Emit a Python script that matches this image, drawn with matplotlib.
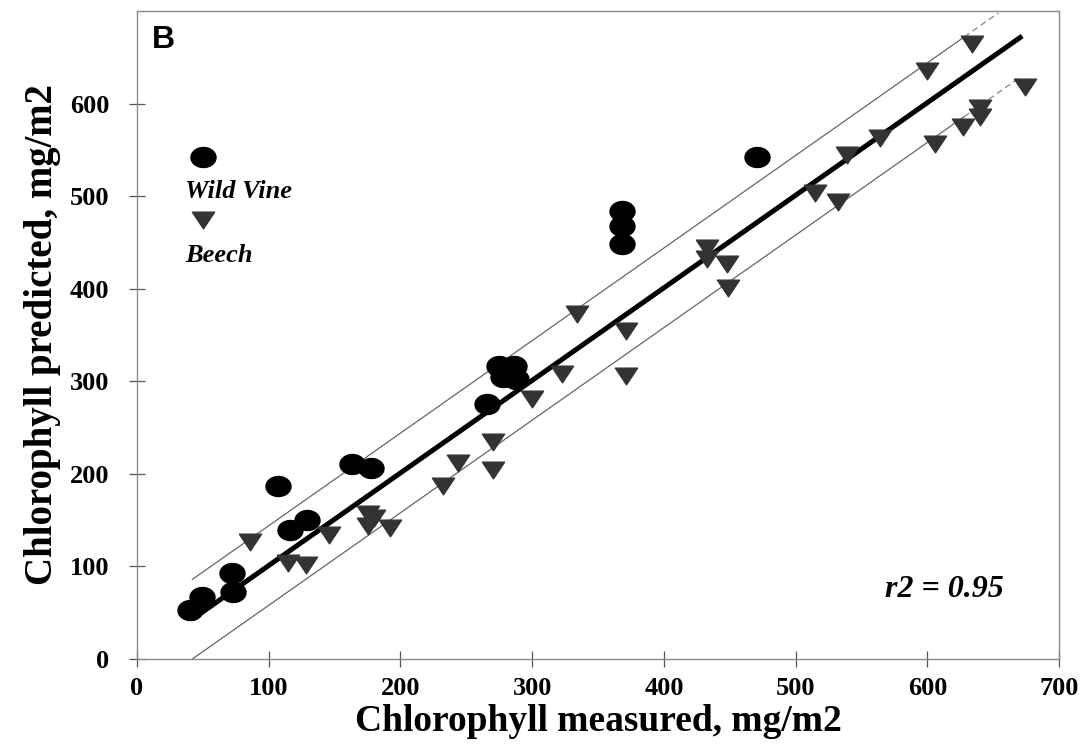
import numpy as np
import matplotlib
matplotlib.use("Agg")
from matplotlib import pyplot as plt
from matplotlib.path import Path

# Wild Vine samples (measured, predicted)
vine_measured = [40, 49, 72, 73, 107, 116, 129, 163, 178, 266, 275, 286, 278, 288, 368, 368, 368, 471]
vine_predicted = [53, 67, 93, 72, 187, 139, 150, 211, 206, 276, 316, 316, 305, 303, 484, 468, 448, 542]

# Beech samples (measured, predicted)
beech_measured = [86, 115, 128, 146, 175, 180, 175, 192, 232, 244, 270, 270, 300, 323, 334, 371, 371,
                  433, 433, 448, 449, 515, 532, 539, 564, 600, 634, 606, 627, 640, 640, 674]
beech_predicted = [126, 104, 102, 134, 157, 152, 144, 142, 187, 212, 234, 204, 281, 308, 373, 354, 306,
                   444, 432, 427, 401, 503, 494, 545, 563, 635, 664, 556, 575, 595, 586, 618]

# regression line and its +/- band
fit_slope = 1.0
fit_intercept = 1.0
band = 43.0
fit_range = [42, 672]
upper_range = [42, 628, 654]
lower_range = [42, 628, 670]

serif = "Liberation Serif"

# slightly flattened markers
t = np.linspace(0, 2 * np.pi, 60)
ellipse = Path(np.column_stack([np.cos(t), 0.8 * np.sin(t)]), closed=True)
tri_down = Path([(-1, 0.75), (1, 0.75), (0, -0.75), (-1, 0.75)], closed=True)

fig = plt.figure(figsize=(10.84, 7.51), dpi=100)
ax = fig.add_axes([0.1264, 0.1225, 0.8506, 0.8628])

# lines
fx = np.array(fit_range, dtype=float)
ax.plot(fx, fit_slope * fx + fit_intercept, color="black", lw=3.6, solid_capstyle="butt", zorder=3)
ux = np.array(upper_range, dtype=float)
uy = fit_slope * ux + fit_intercept + band
ax.plot(ux[:2], uy[:2], color="#666666", lw=0.9, zorder=2)
ax.plot(ux[1:], uy[1:], color="#888888", lw=0.9, ls=(0, (5, 3)), zorder=2)
lx = np.array(lower_range, dtype=float)
ly = fit_slope * lx + fit_intercept - band
ax.plot(lx[:2], ly[:2], color="#666666", lw=0.9, zorder=2)
ax.plot(lx[1:], ly[1:], color="#888888", lw=0.9, ls=(0, (5, 3)), zorder=2)

# points
ax.plot(vine_measured, vine_predicted, ls="none", marker=ellipse, ms=18,
        color="black", mec="black", zorder=4)
ax.plot(beech_measured, beech_predicted, ls="none", marker=tri_down, ms=16,
        color="#333333", mec="#333333", zorder=4)

# in-plot key
ax.plot([0.0716], [0.775], transform=ax.transAxes, ls="none", marker=ellipse, ms=18,
        color="black", clip_on=False)
ax.text(0.052, 0.721, "Wild Vine", transform=ax.transAxes, family=serif, weight="bold",
        style="italic", fontsize=19, va="center", ha="left")
ax.plot([0.0716], [0.677], transform=ax.transAxes, ls="none", marker=tri_down, ms=16,
        color="#333333", clip_on=False)
ax.text(0.052, 0.623, "Beech", transform=ax.transAxes, family=serif, weight="bold",
        style="italic", fontsize=19, va="center", ha="left")

ax.text(0.016, 0.955, "B", transform=ax.transAxes, family="Liberation Sans", weight="bold",
        fontsize=23, va="center", ha="left")
ax.text(613, 75, "r2 = 0.95", family=serif, weight="bold", style="italic",
        fontsize=23, va="center", ha="center")

ax.set_xlim(0, 700)
ax.set_ylim(0, 700)
ax.set_xticks(range(0, 701, 100))
ax.set_yticks(range(0, 601, 100))

for s in ax.spines.values():
    s.set_color("#8a8a8a")
    s.set_linewidth(1.0)
ax.tick_params(direction="inout", length=12, width=0.9, color="#555555", pad=7)
ax.tick_params(axis="y", pad=14)
for lab in ax.get_xticklabels() + ax.get_yticklabels():
    lab.set_family(serif)
    lab.set_weight("bold")
    lab.set_fontsize(19)

ax.set_xlabel("Chlorophyll measured, mg/m2", family=serif, weight="bold", fontsize=27, labelpad=3)
ax.set_ylabel("Chlorophyll predicted, mg/m2", family=serif, weight="bold", fontsize=28, labelpad=6)

fig.savefig("out.png", dpi=100)
